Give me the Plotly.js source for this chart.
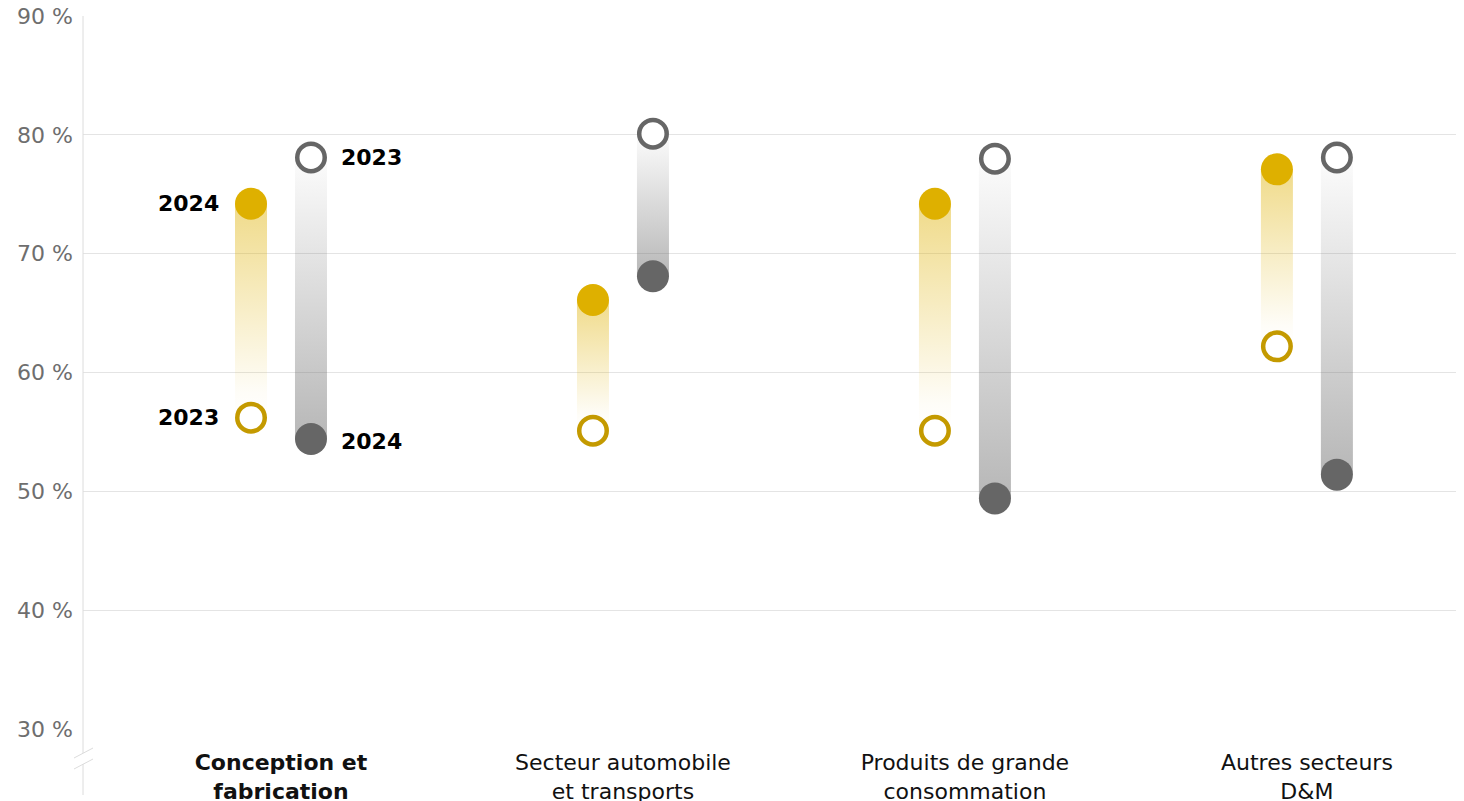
<!DOCTYPE html>
<html>
<head>
<meta charset="utf-8">
<script src="https://cdn.plot.ly/plotly-3.0.1.min.js"></script>
<style>html,body{margin:0;padding:0;background:#fff;}#chart{width:1464px;height:801px;}</style>
</head>
<body>
<div id="chart"></div>
<script>
// ---- data ----
const categories = ['<b>Conception et</b><br><b>fabrication</b>', 'Secteur automobile<br>et transports', 'Produits de grande<br>consommation', 'Autres secteurs<br>D&M'];
const goldA2023 = [56.2, 55.1, 55.1, 62.2];
const goldA2024 = [74.2, 66.1, 74.2, 77.1];
const greyB2023 = [78.1, 80.1, 78.0, 78.1];
const greyB2024 = [54.4, 68.1, 49.4, 51.4];
const yTicks = [30, 40, 50, 60, 70, 80, 90];
const yTickText = yTicks.map(v => v + ' %');
const yearLabels = ['2023', '2024'];

// ---- layout constants ----
const W = 1464, H = 801;
const M = {l: 83, r: 8, t: 16, b: 72};
const xRange = [-0.579, 3.436];
const offset = 0.0877;   // half distance between the two bars of a category
const halfW = 0.0468;    // half bar width
const FONT = 'DejaVu Sans, sans-serif';
const GOLD = '#DEB000', GOLD_RING = '#C49A00', GREY = '#666666';

const idx = categories.map((_, i) => i);
const traces = [];

function gradBar(cx, yBottom, yTop, colorscale) {
  return {
    type: 'scatter', mode: 'lines',
    x: [cx - halfW, cx + halfW, cx + halfW, cx - halfW, cx - halfW],
    y: [yBottom, yBottom, yTop, yTop, yBottom],
    fill: 'toself', line: {width: 0, color: 'rgba(0,0,0,0)'},
    fillgradient: {type: 'vertical', colorscale: colorscale, start: yBottom, stop: yTop},
    hoverinfo: 'skip', showlegend: false
  };
}

idx.forEach(i => {
  const g0 = Math.min(goldA2023[i], goldA2024[i]), g1 = Math.max(goldA2023[i], goldA2024[i]);
  traces.push(gradBar(i - offset, g0, g1, [[0, 'rgba(222,176,0,0.0)'], [0.12, 'rgba(222,176,0,0.03)'], [1, 'rgba(222,176,0,0.46)']]));
  const b0 = Math.min(greyB2023[i], greyB2024[i]), b1 = Math.max(greyB2023[i], greyB2024[i]);
  traces.push(gradBar(i + offset, b0, b1, [[0, 'rgba(102,102,102,0.47)'], [1, 'rgba(102,102,102,0.02)']]));
});

const gx = idx.map(i => i - offset), bx = idx.map(i => i + offset);
traces.push({type: 'scatter', mode: 'markers', x: gx, y: goldA2024, hoverinfo: 'skip', showlegend: false,
  marker: {size: 32, color: GOLD, line: {width: 0}}});
traces.push({type: 'scatter', mode: 'markers', x: gx, y: goldA2023, hoverinfo: 'skip', showlegend: false,
  marker: {size: 27.5, color: '#ffffff', line: {width: 4.5, color: GOLD_RING}}});
traces.push({type: 'scatter', mode: 'markers', x: bx, y: greyB2024, hoverinfo: 'skip', showlegend: false,
  marker: {size: 32, color: GREY, line: {width: 0}}});
traces.push({type: 'scatter', mode: 'markers', x: bx, y: greyB2023, hoverinfo: 'skip', showlegend: false,
  marker: {size: 27.5, color: '#ffffff', line: {width: 4.5, color: GREY}}});

// year labels on first category
const yf = {family: FONT, size: 22, color: '#000000', weight: 700};
const annotations = [
  {x: gx[0], y: goldA2024[0], text: yearLabels[1], xanchor: 'right', xshift: -30, showarrow: false, font: yf},
  {x: gx[0], y: goldA2023[0], text: yearLabels[0], xanchor: 'right', xshift: -30, showarrow: false, font: yf},
  {x: bx[0], y: greyB2023[0], text: yearLabels[0], xanchor: 'left', xshift: 28, showarrow: false, font: yf},
  {x: bx[0], y: greyB2024[0], text: yearLabels[1], xanchor: 'left', xshift: 28, yshift: -2, showarrow: false, font: yf}
];

// axis line with break (decoration, in pixel -> paper)
const pw = W - M.l - M.r, ph = H - M.t - M.b;
const px = v => (v - M.l) / pw, py = v => (H - M.b - v) / ph;
const axisCol = '#dcdcdc';
const shapes = [
  {type: 'line', xref: 'paper', yref: 'paper', x0: 0, x1: 0, y0: 1, y1: py(753), line: {color: axisCol, width: 1}},
  {type: 'line', xref: 'paper', yref: 'paper', x0: 0, x1: 0, y0: py(764), y1: py(795), line: {color: axisCol, width: 1}},
  {type: 'line', xref: 'paper', yref: 'paper', x0: px(74), x1: px(93), y0: py(758), y1: py(748), line: {color: axisCol, width: 1}},
  {type: 'line', xref: 'paper', yref: 'paper', x0: px(74), x1: px(93), y0: py(769), y1: py(759), line: {color: axisCol, width: 1}}
];

const layout = {
  width: W, height: H,
  margin: M,
  paper_bgcolor: '#ffffff', plot_bgcolor: '#ffffff',
  showlegend: false,
  font: {family: FONT},
  xaxis: {range: xRange, tickmode: 'array', tickvals: idx, ticktext: categories, showgrid: false, zeroline: false, showline: false,
    ticks: '', ticklabelstandoff: 18, tickfont: {family: FONT, size: 22, color: '#111111'}, fixedrange: true},
  yaxis: {range: [29.99, 90.01], tickmode: 'array', tickvals: yTicks, ticktext: yTickText, showgrid: true, gridcolor: '#e4e4e4', gridwidth: 1,
    zeroline: false, showline: false, ticks: '', ticklabelstandoff: 9,
    tickfont: {family: FONT, size: 22, color: '#6e6e6e'}, fixedrange: true},
  annotations: annotations,
  shapes: shapes
};

Plotly.newPlot('chart', traces, layout, {displayModeBar: false, staticPlot: true});
</script>
</body>
</html>
